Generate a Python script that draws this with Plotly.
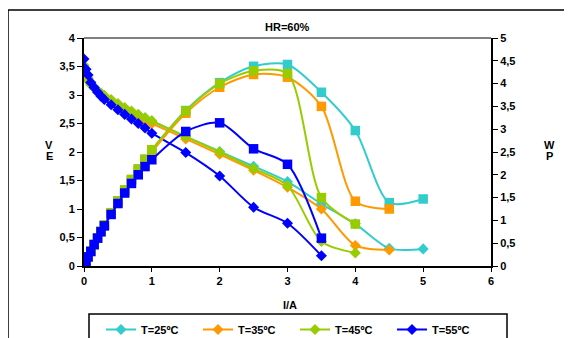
import plotly.graph_objects as go

# ---- data ----
series_names = ["T=25ºC", "T=35ºC", "T=45ºC", "T=55ºC"]
colors = ["#33CCCC", "#FF9900", "#99CC00", "#0000FF"]

I_25 = [0, 0.03, 0.06, 0.1, 0.15, 0.2, 0.25, 0.3, 0.4, 0.5, 0.6, 0.7, 0.8, 0.9, 1.0, 1.5, 2.0, 2.5, 3.0, 3.5, 4.0, 4.5, 5.0]
V_25 = [3.5, 3.38, 3.3, 3.22, 3.14, 3.08, 3.03, 2.98, 2.9, 2.83, 2.76, 2.7, 2.65, 2.6, 2.54, 2.27, 2.01, 1.75, 1.48, 1.09, 0.74, 0.31, 0.30]
P_25 = [0, 0.10, 0.20, 0.32, 0.47, 0.62, 0.76, 0.89, 1.16, 1.42, 1.66, 1.89, 2.12, 2.34, 2.54, 3.41, 4.02, 4.38, 4.42, 3.81, 2.97, 1.39, 1.47]

I_35 = [0, 0.03, 0.06, 0.1, 0.15, 0.2, 0.25, 0.3, 0.4, 0.5, 0.6, 0.7, 0.8, 0.9, 1.0, 1.5, 2.0, 2.5, 3.0, 3.5, 4.0, 4.5]
V_35 = [3.42, 3.35, 3.28, 3.2, 3.13, 3.07, 3.02, 2.97, 2.88, 2.81, 2.74, 2.67, 2.61, 2.55, 2.5, 2.23, 1.96, 1.68, 1.38, 1.0, 0.36, 0.28]
P_35 = [0, 0.10, 0.20, 0.32, 0.47, 0.61, 0.76, 0.89, 1.15, 1.41, 1.64, 1.87, 2.09, 2.3, 2.5, 3.35, 3.92, 4.2, 4.14, 3.5, 1.42, 1.25]

I_45 = [0, 0.03, 0.06, 0.1, 0.15, 0.2, 0.25, 0.3, 0.4, 0.5, 0.6, 0.7, 0.8, 0.9, 1.0, 1.5, 2.0, 2.5, 3.0, 3.5, 4.0]
V_45 = [3.52, 3.38, 3.25, 3.18, 3.12, 3.07, 3.03, 2.99, 2.92, 2.85, 2.78, 2.72, 2.66, 2.6, 2.55, 2.27, 2.0, 1.71, 1.41, 0.43, 0.23]
P_45 = [0, 0.10, 0.20, 0.32, 0.47, 0.61, 0.76, 0.9, 1.17, 1.43, 1.67, 1.9, 2.13, 2.34, 2.55, 3.4, 4.0, 4.28, 4.22, 1.5, 0.92]

I_55 = [0, 0.03, 0.06, 0.1, 0.15, 0.2, 0.25, 0.3, 0.4, 0.5, 0.6, 0.7, 0.8, 0.9, 1.0, 1.5, 2.0, 2.5, 3.0, 3.5]
V_55 = [3.63, 3.45, 3.35, 3.22, 3.13, 3.05, 2.98, 2.92, 2.83, 2.74, 2.66, 2.58, 2.5, 2.42, 2.33, 1.99, 1.58, 1.03, 0.75, 0.18]
P_55 = [0, 0.10, 0.20, 0.32, 0.47, 0.61, 0.75, 0.88, 1.13, 1.37, 1.6, 1.81, 2.0, 2.18, 2.33, 2.95, 3.14, 2.57, 2.23, 0.61]

title_text = "HR=60%"
x_title = "I/A"

I_all = [I_25, I_35, I_45, I_55]
V_all = [V_25, V_35, V_45, V_55]
P_all = [P_25, P_35, P_45, P_55]

FONT = "Liberation Sans, Arial, sans-serif"
bold = dict(family=FONT, size=11, color="black", weight="bold")

fig = go.Figure()
for name, col, I, P in zip(series_names, colors, I_all, P_all):
    fig.add_trace(go.Scatter(
        x=I, y=P, yaxis="y2", mode="lines+markers", name=name,
        legendgroup=name, showlegend=False,
        line=dict(color=col, width=2, shape="spline", smoothing=0.8),
        marker=dict(symbol="square", size=9.5, color=col)))
for name, col, I, V in zip(series_names, colors, I_all, V_all):
    fig.add_trace(go.Scatter(
        x=I, y=V, mode="lines+markers", name=name, legendgroup=name,
        line=dict(color=col, width=2, shape="spline", smoothing=0.8),
        marker=dict(symbol="diamond", size=8.5, color=col)))

# page body adds an 8px offset; work in reference-pixel coordinates
OFF = 8
W, H = 572 - OFF, 338 - OFF
L, R, T, B = 84 - OFF, 491 - OFF, 38 - OFF, 266 - OFF
pw, ph = R - L, B - T

def px(xr):
    return (xr - OFF - L) / pw

def py(yr):
    return (B - (yr - OFF)) / ph

fig.update_layout(
    width=W, height=H,
    margin=dict(l=L, r=W - R, t=T, b=H - B, autoexpand=False),
    paper_bgcolor="white", plot_bgcolor="white",
    separators=", ",
    font=bold,
    xaxis=dict(range=[0, 6], dtick=1, showgrid=False, zeroline=False,
               showline=True, linecolor="black", linewidth=2,
               ticks="outside", ticklen=4, tickcolor="black", tickwidth=1,
               tickfont=bold, automargin=False),
    yaxis=dict(range=[0, 4], dtick=0.5, showgrid=False, zeroline=False,
               showline=True, linecolor="black", linewidth=2,
               ticks="outside", ticklen=5, tickcolor="black", tickwidth=1,
               tickfont=bold, automargin=False),
    yaxis2=dict(range=[0, 5], dtick=0.5, overlaying="y", side="right",
                showgrid=False, zeroline=False,
                showline=True, linecolor="black", linewidth=2,
                ticks="outside", ticklen=5, tickcolor="black", tickwidth=1,
                tickfont=bold, automargin=False),
    showlegend=True,
    legend=dict(orientation="h", xref="container", yref="container",
                x=(101 - OFF) / W, xanchor="left", y=1 - (315 - OFF) / H, yanchor="top",
                borderwidth=0, bgcolor="rgba(0,0,0,0)",
                font=dict(family=FONT, size=11, color="black", weight="bold"),
                entrywidth=52, entrywidthmode="pixels", itemwidth=30,
                tracegroupgap=0),
)

fig.add_shape(type="line", xref="paper", yref="paper", x0=0, x1=1, y0=1, y1=1,
              line=dict(color="#808080", width=2))
fig.add_shape(type="rect", xref="paper", yref="paper",
              x0=px(8), x1=px(590), y0=py(350), y1=py(10),
              line=dict(color="black", width=1.5), layer="below")
# legend frame
fig.add_shape(type="rect", xref="paper", yref="paper",
              x0=px(89), x1=px(507), y0=py(350), y1=py(314),
              line=dict(color="black", width=1.5), fillcolor="white", layer="below")

annots = [
    dict(text=title_text, x=px(287), y=py(27)),
    dict(text=x_title, x=px(290), y=py(305)),
    dict(text="V", x=px(49), y=py(145)),
    dict(text="E", x=px(49), y=py(156)),
    dict(text="W", x=px(549), y=py(145)),
    dict(text="P", x=px(549), y=py(156)),
]
for a in annots:
    fig.add_annotation(xref="paper", yref="paper", showarrow=False,
                       xanchor="center", yanchor="middle",
                       font=bold, **a)

fig.write_html("out.html")
